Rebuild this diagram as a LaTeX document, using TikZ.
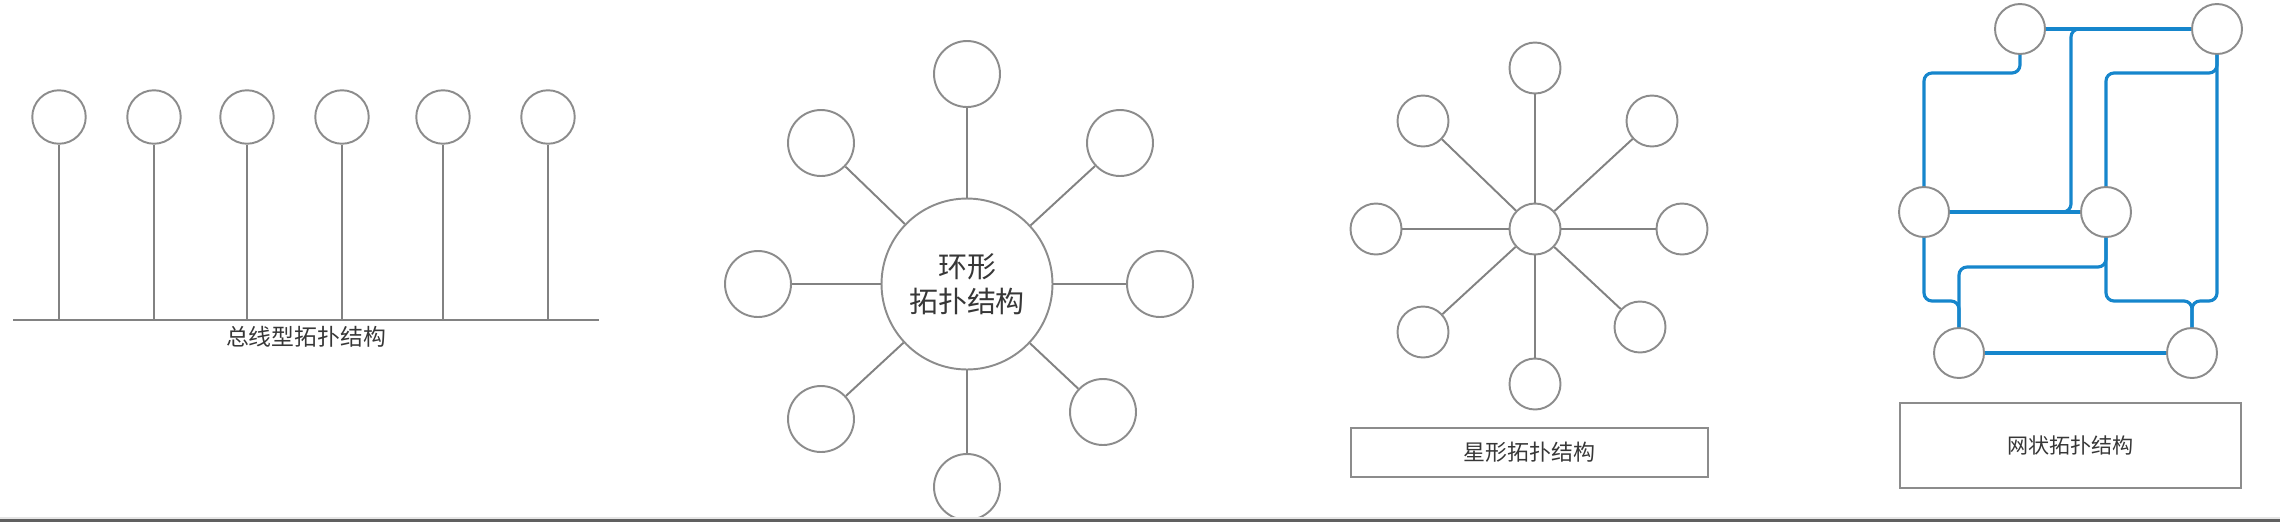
\documentclass[tikz,border=0pt]{standalone}
\usepackage{fontspec}
\setmainfont{Noto Sans CJK SC}
\usepackage{tikz}

\definecolor{nodegray}{RGB}{140,140,140}
\definecolor{linegray}{RGB}{130,130,130}
\definecolor{meshblue}{RGB}{22,134,204}
\definecolor{textgray}{RGB}{55,55,55}
\definecolor{bargray}{RGB}{96,96,96}

\begin{document}
\begin{tikzpicture}[x=0.02cm, y=-0.02cm,
        host/.style={draw=nodegray, line width=1.1pt, fill=white, circle, inner sep=0pt, minimum size=#1},
        host/.default=1cm,
        link/.style={draw=linegray, line width=1.1pt},
        meshlink/.style={draw=meshblue, line width=1.8pt, rounded corners=0.16cm},
        caption/.style={text=textgray, inner sep=0pt, font=\fontsize{#1}{#1}\selectfont},
        labelbox/.style={draw=nodegray, line width=1.1pt}]
        \useasboundingbox (0,0) rectangle (2280,522);

        \node[host=1.07cm] (b1) at ( 59,117) {};
        \node[host=1.07cm] (b2) at (154,117) {};
        \node[host=1.07cm] (b3) at (247,117) {};
        \node[host=1.07cm] (b4) at (342,117) {};
        \node[host=1.07cm] (b5) at (443,117) {};
        \node[host=1.07cm] (b6) at (548,117) {};
        \coordinate (busL) at ( 13,320);
        \coordinate (busR) at (599,320);
        \coordinate (t1) at ( 59,320);
        \coordinate (t2) at (154,320);
        \coordinate (t3) at (247,320);
        \coordinate (t4) at (342,320);
        \coordinate (t5) at (443,320);
        \coordinate (t6) at (548,320);
        \draw[link] (busL) -- (busR);
        \draw[link] (b1) -- (t1);
        \draw[link] (b2) -- (t2);
        \draw[link] (b3) -- (t3);
        \draw[link] (b4) -- (t4);
        \draw[link] (b5) -- (t5);
        \draw[link] (b6) -- (t6);
        \node[caption=13pt] (buslabel) at (306,337) {总线型拓扑结构};

        \node[host=3.42cm, align=center, text=textgray, font=\fontsize{16.5pt}{20pt}\selectfont] (ring) at (967,284) {环形\\拓扑结构};
        \node[host=1.32cm] (r1) at ( 967, 74) {};
        \node[host=1.32cm] (r2) at (1120,143) {};
        \node[host=1.32cm] (r3) at (1160,284) {};
        \node[host=1.32cm] (r4) at (1103,412) {};
        \node[host=1.32cm] (r5) at ( 967,487) {};
        \node[host=1.32cm] (r6) at ( 821,419) {};
        \node[host=1.32cm] (r7) at ( 758,284) {};
        \node[host=1.32cm] (r8) at ( 821,143) {};
        \draw[link] (ring) -- (r1);
        \draw[link] (ring) -- (r2);
        \draw[link] (ring) -- (r3);
        \draw[link] (ring) -- (r4);
        \draw[link] (ring) -- (r5);
        \draw[link] (ring) -- (r6);
        \draw[link] (ring) -- (r7);
        \draw[link] (ring) -- (r8);

        \node[host=1.02cm] (s0) at (1535,229) {};
        \node[host=1.02cm] (s1) at (1535, 68) {};
        \node[host=1.02cm] (s2) at (1652,121) {};
        \node[host=1.02cm] (s3) at (1682,229) {};
        \node[host=1.02cm] (s4) at (1640,327) {};
        \node[host=1.02cm] (s5) at (1535,384) {};
        \node[host=1.02cm] (s6) at (1423,332) {};
        \node[host=1.02cm] (s7) at (1376,229) {};
        \node[host=1.02cm] (s8) at (1423,121) {};
        \draw[link] (s0) -- (s1);
        \draw[link] (s0) -- (s2);
        \draw[link] (s0) -- (s3);
        \draw[link] (s0) -- (s4);
        \draw[link] (s0) -- (s5);
        \draw[link] (s0) -- (s6);
        \draw[link] (s0) -- (s7);
        \draw[link] (s0) -- (s8);
        \node[labelbox, minimum width=7.14cm, minimum height=0.98cm, caption=12.5pt] (starlabel) at (1529.5,452.5) {星形拓扑结构};

        \node[host] (tl) at (2020, 29) {};
        \node[host] (tr) at (2217, 29) {};
        \node[host] (ml) at (1924,212) {};
        \node[host] (mc) at (2106,212) {};
        \node[host] (bl) at (1959,353) {};
        \node[host] (br) at (2192,353) {};
        \coordinate (rowA) at (0, 73);
        \coordinate (rowB) at (0,267);
        \coordinate (rowC) at (0,301);
        \coordinate (colA) at (2071,0);
        \draw[meshlink] (tl) -- (tr);
        \draw[meshlink] (ml) -- (mc);
        \draw[meshlink] (bl) -- (br);
        \draw[meshlink] (tr.west) -- (colA |- tr.west) |- (ml.east);
        \draw[meshlink] (tl.south) -- (tl.south |- rowA) -| (ml.north);
        \draw[meshlink] (tr.south) -- (tr.south |- rowA) -| (mc.north);
        \draw[meshlink] (tr.south) -- (tr.south |- rowC) -| (br.north);
        \draw[meshlink] (mc.south) -- (mc.south |- rowC) -| (br.north);
        \draw[meshlink] (mc.south) -- (mc.south |- rowB) -| (bl.north);
        \draw[meshlink] (ml.south) -- (ml.south |- rowC) -| (bl.north);
        \node[labelbox, minimum width=6.82cm, minimum height=1.7cm, caption=12pt] (meshlabel) at (2070.5,445.5) {网状拓扑结构};

        \fill[gray!20] (0,517) rectangle (2280,519);
        \fill[bargray] (0,519) rectangle (2280,522);
    \end{tikzpicture}
\end{document}
